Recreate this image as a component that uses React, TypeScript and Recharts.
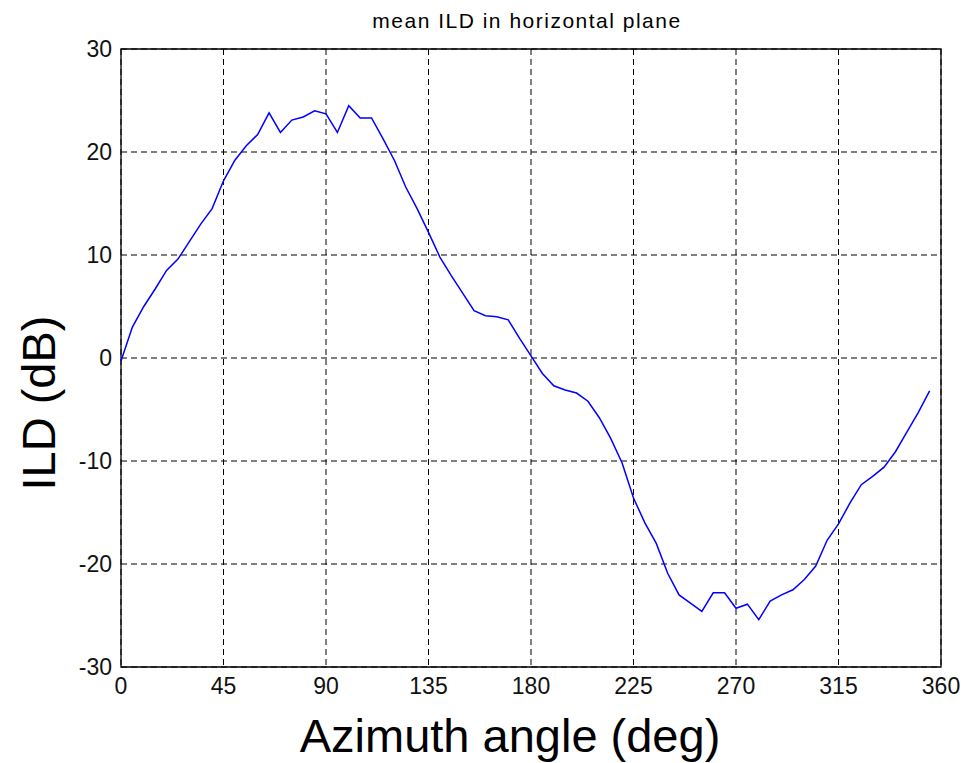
import React from 'react';
import { LineChart, Line, XAxis, YAxis, CartesianGrid, ReferenceArea } from 'recharts';

const azimuth = [
  0, 5, 10, 15, 20, 25, 30, 35, 40, 45, 50, 55, 60, 65, 70, 75, 80, 85,
  90, 95, 100, 105, 110, 115, 120, 125, 130, 135, 140, 145, 150, 155, 160, 165, 170, 175,
  180, 185, 190, 195, 200, 205, 210, 215, 220, 225, 230, 235, 240, 245, 250, 255, 260, 265,
  270, 275, 280, 285, 290, 295, 300, 305, 310, 315, 320, 325, 330, 335, 340, 345, 350, 355,
];

const ild = [
  -0.3, 3.0, 5.0, 6.7, 8.5, 9.6, 11.3, 13.0, 14.5, 17.2, 19.2, 20.6, 21.7, 23.8, 21.9, 23.1, 23.4, 24.0,
  23.7, 21.9, 24.5, 23.3, 23.3, 21.3, 19.2, 16.6, 14.5, 12.2, 9.8, 8.0, 6.3, 4.6, 4.1, 4.0, 3.7, 1.9,
  0.2, -1.5, -2.7, -3.1, -3.4, -4.2, -5.8, -7.8, -10.2, -13.6, -16.0, -18.0, -20.9, -23.0, -23.8, -24.6, -22.8, -22.8,
  -24.3, -23.9, -25.4, -23.6, -23.0, -22.5, -21.5, -20.2, -17.7, -16.1, -14.1, -12.3, -11.5, -10.6, -9.1, -7.2, -5.3, -3.2,
];

const xTicks = [0, 45, 90, 135, 180, 225, 270, 315, 360];
const yTicks = [-30, -20, -10, 0, 10, 20, 30];

const title = 'mean ILD in horizontal plane';
const xLabel = 'Azimuth angle (deg)';
const yLabel = 'ILD (dB)';

const data = azimuth.map((a, i) => ({ az: a, ild: ild[i] }));

const W = 963;
const H = 763;
const tickFont = { fontFamily: 'Liberation Sans, Arial, sans-serif', fontSize: 23, fill: '#111' };

export default function App() {
  return (
    <div style={{ position: 'relative', width: W, height: H, background: '#fff' }}>
      <style>{'html,body{margin:0;padding:0;overflow:hidden;background:#fff;}'}</style>
      <LineChart
        width={W}
        height={H}
        data={data}
        margin={{ top: 49, right: 22, left: 71, bottom: 56 }}
      >
        <CartesianGrid stroke="#000" strokeDasharray="6 4" strokeWidth={1} />
        <XAxis
          type="number"
          dataKey="az"
          domain={[0, 360]}
          ticks={xTicks}
          interval={0}
          axisLine={false}
          tickLine={false}
          tickMargin={5}
          height={40}
          tick={tickFont}
        />
        <YAxis
          type="number"
          domain={[-30, 30]}
          ticks={yTicks}
          interval={0}
          axisLine={false}
          tickLine={false}
          tickMargin={3}
          width={50}
          tick={tickFont}
        />
        <ReferenceArea x1={0} x2={360} y1={-30} y2={30} fill="none" fillOpacity={0} stroke="#000" strokeWidth={1.3} />
        <Line
          type="linear"
          dataKey="ild"
          stroke="#0000ff"
          strokeWidth={1.5}
          dot={false}
          isAnimationActive={false}
        />
      </LineChart>
      <svg
        width={W}
        height={H}
        style={{ position: 'absolute', left: 0, top: 0, pointerEvents: 'none' }}
      >
        <text
          x={527}
          y={28}
          textAnchor="middle"
          fontFamily="Liberation Sans, Arial, sans-serif"
          fontSize={21}
          letterSpacing={1.5}
          fill="#000"
        >
          {title}
        </text>
        <text
          x={510}
          y={752}
          textAnchor="middle"
          fontFamily="Liberation Sans, Arial, sans-serif"
          fontSize={47}
          fill="#000"
        >
          {xLabel}
        </text>
        <text
          x={55}
          y={403}
          textAnchor="middle"
          transform="rotate(-90, 55, 403)"
          fontFamily="Liberation Sans, Arial, sans-serif"
          fontSize={47}
          fill="#000"
        >
          {yLabel}
        </text>
      </svg>
    </div>
  );
}
